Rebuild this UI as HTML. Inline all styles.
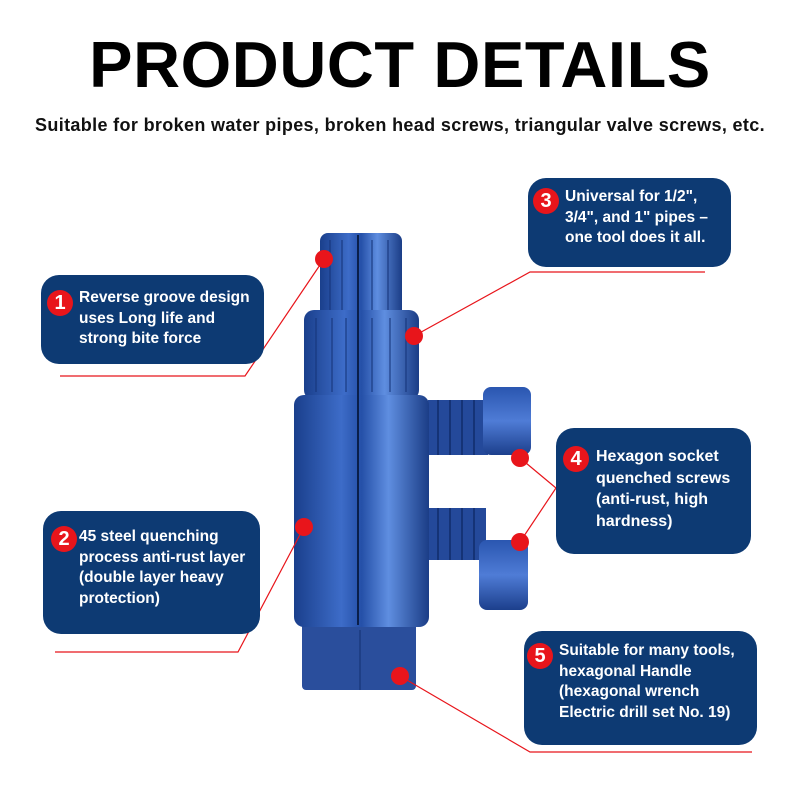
<!DOCTYPE html><html><head><style>
body{margin:0;width:800px;height:800px;background:#fff;position:relative;overflow:hidden;font-family:"Liberation Sans",sans-serif}
.t{position:absolute;top:27px;left:0;width:800px;text-align:center;font-weight:bold;font-size:65px;letter-spacing:0.6px;color:#000}
.s{position:absolute;top:115px;left:0;width:800px;text-align:center;font-size:18px;font-weight:bold;letter-spacing:0.35px;color:#111}
.b{position:absolute;background:#0d3a73;border-radius:18px;color:#fff;font-weight:bold;font-size:15.5px;line-height:20.5px;white-space:nowrap}
.b span{position:absolute}
.n{position:absolute;width:26px;height:26px;border-radius:50%;background:#e8151b;color:#fff;font-weight:bold;font-size:20px;text-align:center;line-height:26px}
</style></head><body>
<div class="t">PRODUCT DETAILS</div>
<div class="s">Suitable for broken water pipes, broken head screws, triangular valve screws, etc.</div>
<svg width="800" height="800" style="position:absolute;left:0;top:0">
<defs>
<linearGradient id="g" x1="0" x2="1"><stop offset="0" stop-color="#1a3f8c"/><stop offset=".35" stop-color="#3d6cc8"/><stop offset=".5" stop-color="#2550a8"/><stop offset=".7" stop-color="#5f8ee0"/><stop offset="1" stop-color="#1b3d86"/></linearGradient>
<linearGradient id="h" x1="0" y1="0" x2="0" y2="1"><stop offset="0" stop-color="#2a56b0"/><stop offset=".5" stop-color="#4f7cd6"/><stop offset="1" stop-color="#1c3f8c"/></linearGradient>
</defs>
<rect x="320" y="233" width="82" height="85" rx="8" fill="url(#g)"/>
<rect x="304" y="310" width="115" height="90" rx="10" fill="url(#g)"/>
<g stroke="#16357a" stroke-width="1.5" opacity=".7">
<line x1="330" y1="240" x2="330" y2="310"/><line x1="342" y1="240" x2="342" y2="310"/><line x1="372" y1="240" x2="372" y2="310"/><line x1="388" y1="240" x2="388" y2="310"/>
<line x1="316" y1="318" x2="316" y2="392"/><line x1="332" y1="318" x2="332" y2="392"/><line x1="346" y1="318" x2="346" y2="392"/><line x1="372" y1="318" x2="372" y2="392"/><line x1="390" y1="318" x2="390" y2="392"/><line x1="406" y1="318" x2="406" y2="392"/>
</g>
<rect x="428" y="400" width="60" height="55" fill="#24499a"/>
<rect x="428" y="508" width="58" height="52" fill="#24499a"/>
<g stroke="#153376" stroke-width="2"><line x1="438" y1="400" x2="438" y2="455"/><line x1="450" y1="400" x2="450" y2="455"/><line x1="462" y1="400" x2="462" y2="455"/><line x1="474" y1="400" x2="474" y2="455"/>
<line x1="438" y1="508" x2="438" y2="560"/><line x1="450" y1="508" x2="450" y2="560"/><line x1="462" y1="508" x2="462" y2="560"/><line x1="474" y1="508" x2="474" y2="560"/></g>
<rect x="483" y="387" width="48" height="68" rx="8" fill="url(#h)"/>
<rect x="479" y="540" width="49" height="70" rx="8" fill="url(#h)"/>
<rect x="302" y="615" width="114" height="75" rx="4" fill="#2a4e9c"/>
<line x1="360" y1="630" x2="360" y2="690" stroke="#1e3f86" stroke-width="2"/>
<rect x="294" y="395" width="135" height="232" rx="10" fill="url(#g)"/>
<line x1="358" y1="235" x2="358" y2="625" stroke="#0a1f4a" stroke-width="2"/>
<g stroke="#e8151b" stroke-width="1.2" fill="none">
<polyline points="60,376 245,376 324,259"/>
<polyline points="705,272 530,272 414,336"/>
<polyline points="520,458 556,488 520,542"/>
<polyline points="55,652 238,652 304,527"/>
<polyline points="400,676 530,752 752,752"/>
</g>
<g fill="#e8151b"><circle cx="324" cy="259" r="9"/><circle cx="414" cy="336" r="9"/><circle cx="520" cy="458" r="9"/><circle cx="520" cy="542" r="9"/><circle cx="304" cy="527" r="9"/><circle cx="400" cy="676" r="9"/></g>
</svg>
<div class="b" style="left:41px;top:275px;width:223px;height:89px"><span style="left:38px;top:13px">Reverse groove design<br>uses Long life and<br>strong bite force</span></div>
<div class="n" style="left:47px;top:290px">1</div>
<div class="b" style="left:528px;top:178px;width:203px;height:89px"><span style="left:37px;top:9px">Universal for 1/2",<br>3/4", and 1" pipes –<br>one tool does it all.</span></div>
<div class="n" style="left:533px;top:188px">3</div>
<div class="b" style="left:556px;top:428px;width:195px;height:126px"><span style="left:40px;top:18px;font-size:16px;line-height:21.5px">Hexagon socket<br>quenched screws<br>(anti-rust, high<br>hardness)</span></div>
<div class="n" style="left:563px;top:446px">4</div>
<div class="b" style="left:43px;top:511px;width:217px;height:123px"><span style="left:36px;top:16px">45 steel quenching<br>process anti-rust layer<br>(double layer heavy<br>protection)</span></div>
<div class="n" style="left:51px;top:526px">2</div>
<div class="b" style="left:524px;top:631px;width:233px;height:114px"><span style="left:35px;top:10px">Suitable for many tools,<br>hexagonal Handle<br>(hexagonal wrench<br>Electric drill set No. 19)</span></div>
<div class="n" style="left:527px;top:643px">5</div>
</body></html>
